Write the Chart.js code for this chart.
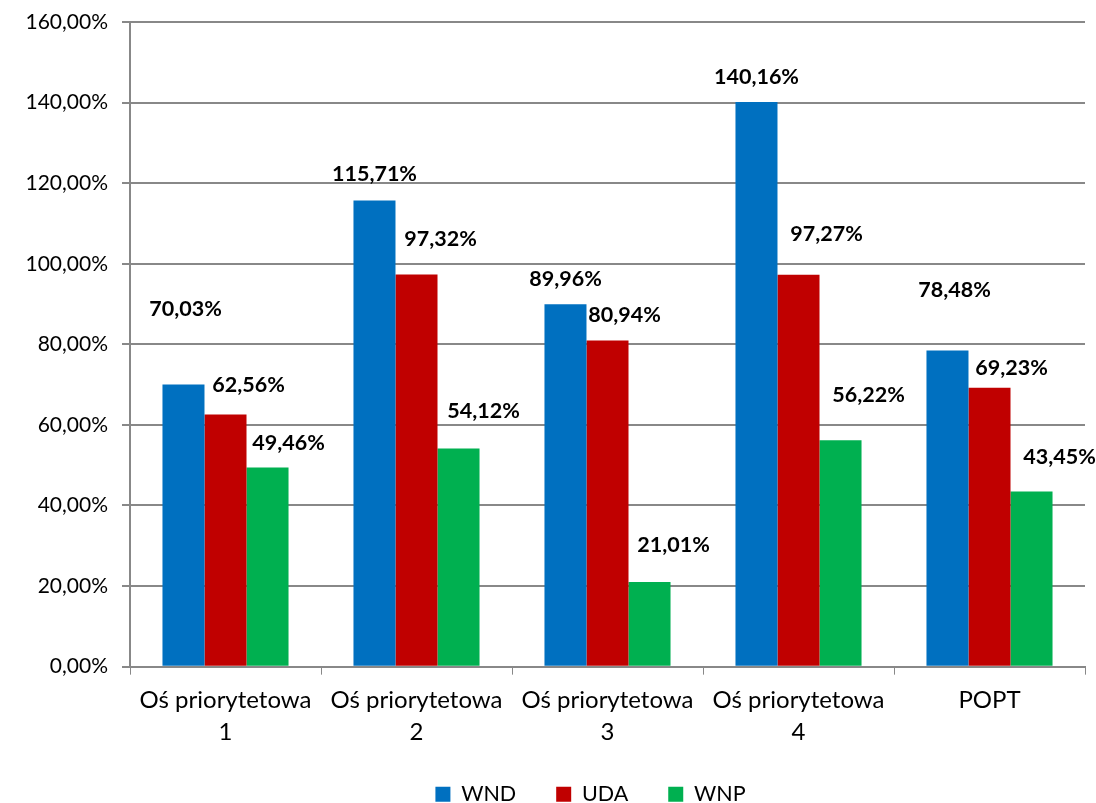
<!DOCTYPE html>
<html>
<head>
<meta charset="utf-8">
<script src="https://cdn.jsdelivr.net/npm/chart.js@4.4.1/dist/chart.umd.min.js"></script>
<style>
html,body{margin:0;padding:0;background:#fff;}
#wrap{width:1096px;height:803px;position:relative;}
</style>
</head>
<body>
<div id="wrap"><canvas id="c" width="1096" height="803"></canvas></div>
<script>
const categories = [["Oś priorytetowa","1"],["Oś priorytetowa","2"],["Oś priorytetowa","3"],["Oś priorytetowa","4"],"POPT"];
const seriesNames = ["WND","UDA","WNP"];
const wnd = [70.03, 115.71, 89.96, 140.16, 78.48];
const uda = [62.56, 97.32, 80.94, 97.27, 69.23];
const wnp = [49.46, 54.12, 21.01, 56.22, 43.45];
const yTicks = [0,20,40,60,80,100,120,140,160];

const colors = ["#0070C0","#C00000","#00B050"];
// label placement offsets (px) relative to bar top centre, mimicking the original
const labelOffsets = [
  [[2,-75],[0,-26],[0,-25],[0,-25],[7,-60]],
  [[23,-30],[24,-35],[17,-25],[28,-41],[22,-20]],
  [[21,-24],[25,-38],[24,-37],[28,-45],[28,-35]]
];
const FONT = "Lato, 'Open Sans', sans-serif";
const fmt = v => v.toFixed(2).replace('.', ',') + '%';

const labelPlugin = {
  id: 'barLabels',
  afterLayout(chart){
    // legend in the original sits right of centre
    if (chart.legend){ chart.legend.left += 48; chart.legend.right += 48; }
  },
  afterDatasetsDraw(chart){
    const ctx = chart.ctx;
    ctx.save();
    ctx.font = "bold 21.5px " + FONT;
    ctx.fillStyle = "#000";
    ctx.textAlign = "center";
    ctx.textBaseline = "middle";
    chart.data.datasets.forEach((ds, di) => {
      const meta = chart.getDatasetMeta(di);
      meta.data.forEach((bar, i) => {
        const off = labelOffsets[di][i];
        ctx.fillText(fmt(ds.data[i]), bar.x + off[0], bar.y + off[1]);
      });
    });
    ctx.restore();
  }
};

new Chart(document.getElementById('c'), {
  type: 'bar',
  data: {
    labels: categories,
    datasets: [
      {label: seriesNames[0], data: wnd, backgroundColor: colors[0]},
      {label: seriesNames[1], data: uda, backgroundColor: colors[1]},
      {label: seriesNames[2], data: wnp, backgroundColor: colors[2]}
    ]
  },
  options: {
    responsive: false,
    animation: false,
    devicePixelRatio: 1,
    layout: {padding: {top: 22, right: 11, bottom: -12, left: 0}},
    datasets: {bar: {categoryPercentage: 0.66, barPercentage: 1.0}},
    plugins: {
      legend: {
        position: 'bottom',
        labels: {
          boxWidth: 15, boxHeight: 15, padding: 40,
          color: '#000',
          font: {family: FONT, size: 21.5}
        }
      },
      tooltip: {enabled: false}
    },
    scales: {
      x: {
        afterFit(axis){ axis.height -= 15; },
        grid: {display: true, drawOnChartArea: false, drawTicks: true, tickLength: 8, color: '#888', offset: true},
        border: {color: '#888', width: 2},
        ticks: {color: '#000', font: {family: FONT, size: 24, lineHeight: 1.33}, padding: 10, maxRotation: 0, autoSkip: false}
      },
      y: {
        min: 0, max: 160,
        afterBuildTicks(axis){ axis.ticks = yTicks.map(v => ({value: v})); },
        afterFit(axis){ axis.width = 130; axis.paddingTop = 0; axis.paddingBottom = 0; },
        grid: {color: '#888', lineWidth: 2, tickLength: 8},
        border: {color: '#888', width: 2},
        ticks: {color: '#000', font: {family: FONT, size: 21, lineHeight: 0.8}, padding: 14, callback: v => fmt(v)}
      }
    }
  },
  plugins: [labelPlugin]
});
</script>
</body>
</html>
